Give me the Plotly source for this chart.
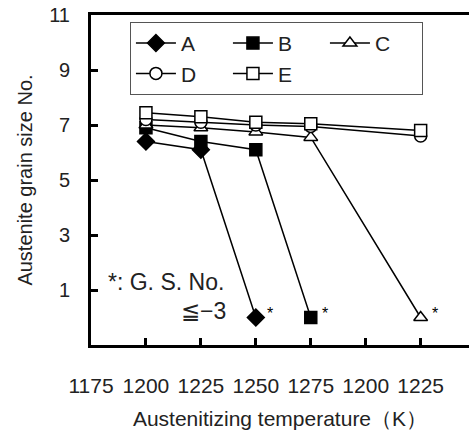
import plotly.graph_objects as go

temps_A = [1200, 1225, 1250]
vals_A = [6.4, 6.1, 0.0]
temps_B = [1200, 1225, 1250, 1275]
vals_B = [6.9, 6.4, 6.1, 0.0]
temps_C = [1200, 1225, 1250, 1275, 1325]
vals_C = [7.0, 6.9, 6.75, 6.55, 0.0]
temps_D = [1200, 1225, 1250, 1275, 1325]
vals_D = [7.2, 7.1, 7.0, 6.95, 6.6]
temps_E = [1200, 1225, 1250, 1275, 1325]
vals_E = [7.45, 7.3, 7.1, 7.05, 6.8]

x_tickvals = [1175, 1200, 1225, 1250, 1275, 1300, 1325]
x_ticktext = ["1175", "1200", "1225", "1250", "1275", "1200", "1225"]
y_tickvals = [1, 3, 5, 7, 9, 11]

star_x = [1250, 1275, 1325]
star_y = [0, 0, 0]

FONT = "Liberation Sans, Arial, sans-serif"
TXT = "#222"

series = [
    ("A", temps_A, vals_A, "diamond", "black"),
    ("B", temps_B, vals_B, "square", "black"),
    ("C", temps_C, vals_C, "triangle-up", "white"),
    ("D", temps_D, vals_D, "circle", "white"),
    ("E", temps_E, vals_E, "square", "white"),
]

fig = go.Figure()
for name, xs, ys, sym, fill in series:
    fig.add_trace(go.Scatter(
        x=xs, y=ys, name=name, mode="lines+markers",
        line=dict(color="black", width=1.5),
        marker=dict(symbol=sym, size=12 if sym != "diamond" else 13, color=fill,
                    line=dict(color="black", width=1.5)),
    ))

for sx, sy in zip(star_x, star_y):
    fig.add_annotation(x=sx, y=sy, text="*", showarrow=False, xshift=14, yshift=4,
                       font=dict(size=16, color="black", family=FONT))

fig.add_annotation(x=1182, y=1.3, text="*: G. S. No.", showarrow=False, xanchor="left",
                   font=dict(size=23, color=TXT, family=FONT))
fig.add_annotation(x=1237.5, y=0.25, text="≦−3", showarrow=False, xanchor="right",
                   font=dict(size=23, color=TXT, family=FONT))

fig.update_layout(
    width=469, height=437,
    margin=dict(l=91, r=0, t=15, b=92),
    plot_bgcolor="white", paper_bgcolor="white",
    font=dict(family=FONT, color=TXT),
    showlegend=True,
    legend=dict(orientation="h", x=0.103, y=0.979, xanchor="left", yanchor="top",
                bgcolor="white", bordercolor="#555", borderwidth=1,
                font=dict(size=21, family=FONT, color=TXT),
                entrywidth=42, entrywidthmode="pixels",
                itemwidth=40, tracegroupgap=0),
    xaxis=dict(range=[1175, 1347], tickvals=x_tickvals, ticktext=x_ticktext,
               showgrid=False, zeroline=False, showline=True, linecolor="black",
               linewidth=3, mirror=True, ticks="inside", ticklen=7, tickwidth=3,
               tickcolor="black", tickfont=dict(size=21, family=FONT, color=TXT),
               ticklabelstandoff=20,
               title=dict(text="Austenitizing temperature（K）", standoff=16,
                          font=dict(size=21, family=FONT, color=TXT))),
    yaxis=dict(range=[-1, 11], tickvals=y_tickvals, showgrid=False, zeroline=False,
               showline=True, linecolor="black", linewidth=3, ticks="inside",
               ticklen=7, tickwidth=3, tickcolor="black",
               tickfont=dict(size=20, family=FONT, color=TXT),
               ticklabelstandoff=14,
               title=dict(text="Austenite grain size No.", standoff=12,
                          font=dict(size=20, family=FONT, color=TXT))),
)

fig.write_html("out.html")
